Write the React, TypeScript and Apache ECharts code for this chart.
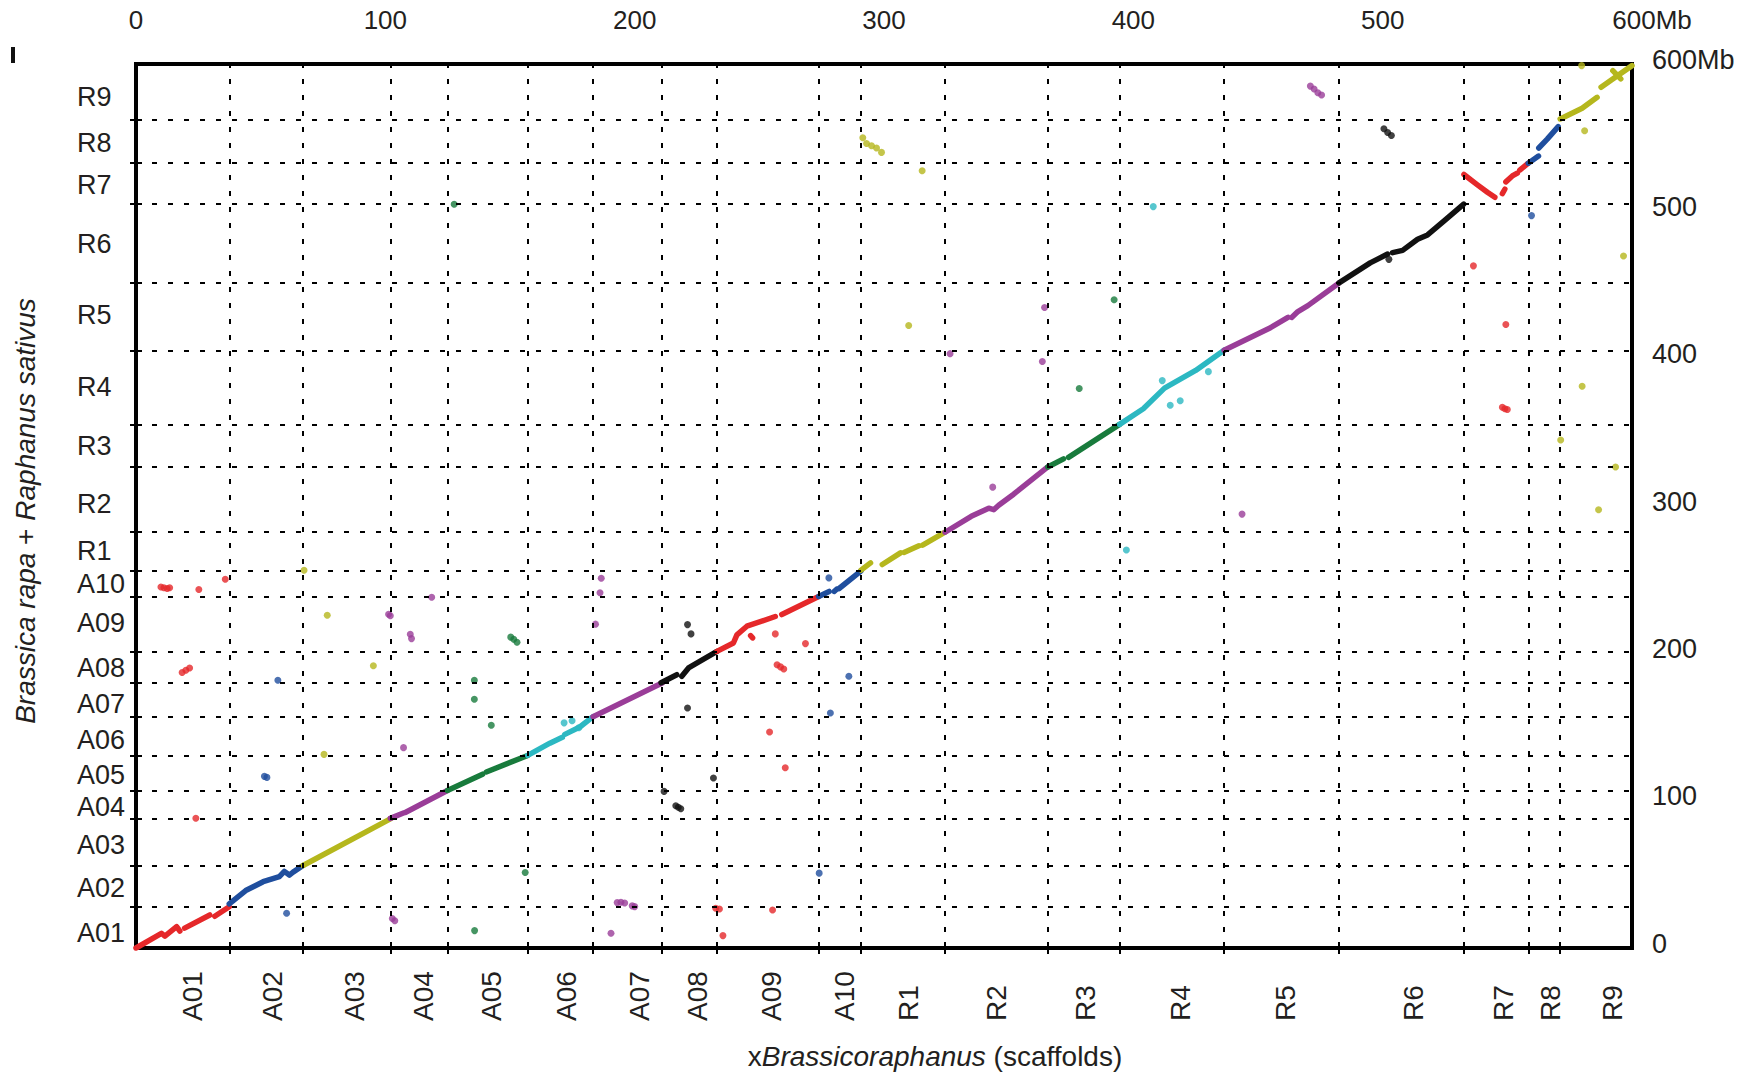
import React, { useEffect, useRef } from "react";
import * as echarts from "echarts";

const FONT = "Liberation Sans, Arial, Helvetica, sans-serif";
const TXT = "#231f20";

const CHROMS = ["A01","A02","A03","A04","A05","A06","A07","A08","A09","A10","R1","R2","R3","R4","R5","R6","R7","R8","R9"];
// chromosome boundaries (Mb) on the xBrassicoraphanus axis and on the B. rapa + R. sativus axis
const X_BOUNDS = [37.4, 66.9, 102.0, 124.9, 157.1, 183.3, 211.0, 233.0, 273.8, 290.8, 324.5, 365.7, 394.5, 436.4, 482.5, 532.5, 558.4, 571.0];
const Y_BOUNDS = [28.0, 55.9, 87.6, 106.9, 130.7, 157.0, 179.8, 201.3, 238.5, 256.2, 282.2, 326.5, 355.4, 405.7, 451.4, 504.9, 532.7, 562.2];
const X_LABEL_POS = [22.7, 54.7, 87.5, 115.5, 142.5, 172.6, 201.9, 225.3, 255.0, 284.2, 309.9, 345.0, 381.0, 418.8, 461.1, 512.4, 548.4, 567.4, 592.1];
const Y_LABEL_POS = [10.3, 40.8, 69.7, 95.6, 117.7, 141.3, 165.7, 190.1, 220.6, 247.2, 269.3, 301.3, 341.0, 380.6, 429.3, 478.1, 517.7, 546.7, 577.9];
const MB_TICKS = [0, 100, 200, 300, 400, 500, 600];

const PALETTE: Record<string, string> = {
  red: "#e5282a", blue: "#1f4e9e", olive: "#b5b71d", purple: "#9a3d98",
  green: "#187b3c", cyan: "#2cb8c2", black: "#111111",
};
const CHROM_COLOR = ["red","blue","olive","purple","green","cyan","purple","black","red","blue","olive","purple","green","cyan","purple","black","red","blue","olive"];

// main diagonal pieces per scaffold [x Mb, y Mb]
const DIAG_A01 = [[[0,0],[10.2,10],[11.6,8],[16.3,14.5],[17.6,11.5]],[[19.5,13.5],[29.6,22.4]],[[31.6,21.5],[37.4,28]]];
const DIAG_A02 = [[[37.4,30],[44,39],[51,45],[57.5,48.5],[59.5,52],[61.5,49.5],[63,51.5],[67,56]]];
const DIAG_A03 = [[[67,56],[102,87.6]]];
const DIAG_A04 = [[[102,88],[107,91.5]],[[108,92],[124.9,106.9]]];
const DIAG_A05 = [[[124.9,106.9],[139,118]],[[140.5,119.5],[157.1,130.7]]];
const DIAG_A06 = [[[157.1,130.7],[166,139],[171,143]],[[172,145],[178,150],[183.3,157]]];
const DIAG_A07 = [[[183.3,157],[211,179.8]]];
const DIAG_A08 = [[[210.6,180],[216.9,185.5]],[[218.9,184.4],[221.6,190.1],[233,201.3]]];
const DIAG_A09 = [[[233,201.3],[239.6,207],[241,212.5],[245,218.4],[256.4,225]],[[259,226.3],[273.8,238.6]],[[246.5,212],[247.3,210.5]]];
const DIAG_A10 = [[[273.8,238.6],[278,242]],[[280,242],[281,243.5]],[[282,244],[290.8,256]]];
const DIAG_R1 = [[[290.8,256.5],[294.6,261.4]],[[299.3,260.3],[306.6,268.2]],[[308,268.5],[314,273]],[[315.5,273.5],[324.5,282.2]]];
const DIAG_R2 = [[[324.5,282.2],[335,293],[342,298.5],[344,297.5],[346,300.5],[352,308],[365.7,326.5]]];
const DIAG_R3 = [[[365.7,326.5],[372,332]],[[374,333],[394.5,355.4]]];
const DIAG_R4 = [[[394.5,355.4],[404,366],[412.5,380],[425,392],[436.4,405.7]]];
const DIAG_R5 = [[[436.4,405.7],[455,421],[462,428]],[[463.5,428],[466,432],[470,436],[482.5,451.4]]];
const DIAG_R6 = [[[482.5,451.4],[495,465],[502,471]],[[504,472],[508,473.5],[514,481],[518,484],[525,494],[532.5,504.9]]];
const DIAG_R7 = [[[532.6,525],[538,518],[542,513],[545,509.5]],[[548,512],[549,515]],[[549.4,520],[552,524],[554,526]],[[555,528],[558.4,532.7]]];
const DIAG_R8 = [[[558.4,532.7],[562.5,537.5]],[[562.6,543],[566,549],[570.4,557.5]]];
const DIAG_R9 = [[[571.2,562.7],[580,570],[586,577.4]],[[587.6,584.2],[592,589.5],[600,598.9]],[[592.3,595.5],[595.5,589.9]]];

// off-diagonal hits per scaffold
const OFF_A01 = [[10,245],[11.2,244.5],[12.5,244],[13.5,244.5],[25.2,243.3],[35.8,250.3],[18.5,187],[20,188.5],[21.5,190],[24,88.1]];
const OFF_A02 = [[56.9,181.7],[51.5,116.5],[52.5,115.8],[60.4,23.6]];
const OFF_A03 = [[67.4,256.4],[76.7,225.9],[75.4,131.4],[95.2,191.6]];
const OFF_A04 = [[101.3,226.5],[102,225.5],[110,213],[110.5,210],[118.6,238.1],[107.3,136],[102.8,20],[103.8,18.5]];
const OFF_A05 = [[127.6,504.8],[150.3,211],[151.5,209.5],[152.8,207.5],[135.7,181.7],[135.7,168.8],[142.5,151.2],[156.1,51.2],[135.8,11.8]];
const OFF_A06 = [[171.7,152.8],[174.9,154.3],[177.6,149.5]];
const OFF_A07 = [[186.6,251],[186.1,241.1],[184.3,219.8],[193,30.8],[194.5,31],[196,30.5],[199,28.6],[200,28.1],[190.5,10]];
const OFF_A08 = [[221.2,219.5],[222.6,213.2],[221.2,162.9],[211.8,106.3],[216.5,96.5],[217.5,95.5],[218.5,94.5],[231.6,115.4]];
const OFF_A09 = [[256.4,213.2],[268.5,206.6],[257.1,192.3],[258.5,190.8],[259.8,189.4],[254.1,146.6],[260.4,122.3],[232.5,27],[234,26.5],[235.4,8.4],[255.3,25.8]];
const OFF_A10 = [[277.9,251.2],[285.9,184.4],[278.5,159.5],[274,50.8]];
const OFF_R1 = [[291.5,550],[293,546],[295,544.5],[297,543],[299,540],[315.3,527.6],[309.9,422.5]];
const OFF_R2 = [[326.5,403.4],[343.6,312.8],[364.4,434.7],[363.5,398.1]];
const OFF_R3 = [[392.3,440],[378.3,379.8]];
const OFF_R4 = [[408,503.2],[411.6,385.1],[414.8,368.4],[418.8,371.4],[430.1,391.2],[397.2,270.1]];
const OFF_R5 = [[443.6,294.5],[471,585],[472.5,583],[474,580.5],[475.5,579]];
const OFF_R6 = [[500.5,556],[502,553.5],[503.5,551.5],[502.5,467.4]];
const OFF_R7 = [[536.4,463],[549.4,423.2],[548,367],[549,366],[550,365.5]];
const OFF_R8 = [[559.7,497.1]];
const OFF_R9 = [[579.8,598.9],[581,554.7],[580,381.3],[571.4,344.8],[593.4,326.5],[586.6,297.5],[596.6,469.7]];

const DIAG = [DIAG_A01,DIAG_A02,DIAG_A03,DIAG_A04,DIAG_A05,DIAG_A06,DIAG_A07,DIAG_A08,DIAG_A09,DIAG_A10,DIAG_R1,DIAG_R2,DIAG_R3,DIAG_R4,DIAG_R5,DIAG_R6,DIAG_R7,DIAG_R8,DIAG_R9];
const OFF = [OFF_A01,OFF_A02,OFF_A03,OFF_A04,OFF_A05,OFF_A06,OFF_A07,OFF_A08,OFF_A09,OFF_A10,OFF_R1,OFF_R2,OFF_R3,OFF_R4,OFF_R5,OFF_R6,OFF_R7,OFF_R8,OFF_R9];

function labelFor(list: number[], value: number) {
  const i = list.findIndex((p) => Math.abs(p - value) < 1e-6);
  return i >= 0 ? CHROMS[i] : "";
}

export default function App() {
  const ref = useRef<HTMLDivElement>(null);
  useEffect(() => {
    if (!ref.current) return;
    const chart = echarts.init(ref.current, undefined, { renderer: "svg" });
    const series: any[] = [];
    series.push({
      type: "scatter",
      data: [],
      silent: true,
      z: 1,
      markLine: {
        silent: true,
        symbol: ["none", "none"],
        label: { show: false },
        lineStyle: { color: "#000", width: 2, type: [5, 11] },
        data: [
          ...X_BOUNDS.map((v) => ({ xAxis: v })),
          ...Y_BOUNDS.map((v) => ({ yAxis: v })),
        ],
      },
    });
    DIAG.forEach((pieces, i) => {
      const color = PALETTE[CHROM_COLOR[i]];
      pieces.forEach((poly) => {
        series.push({
          type: "line",
          data: poly,
          symbol: "none",
          silent: true,
          z: 3,
          lineStyle: { color, width: 5.5, cap: "round", join: "round" },
        });
      });
      series.push({
        type: "scatter",
        data: OFF[i],
        symbolSize: 7,
        silent: true,
        z: 3,
        itemStyle: { color },
      });
    });
    const tickStyle = { show: true, inside: true, length: 6, lineStyle: { color: "#000", width: 2 } };
    chart.setOption({
      animation: false,
      backgroundColor: "#fff",
      grid: {
        left: 136, right: 126, top: 64, bottom: 124,
        show: true, borderColor: "#000", borderWidth: 4, backgroundColor: "transparent",
        outerBoundsMode: "none",
      },
      xAxis: [
        {
          type: "value", position: "bottom", min: 0, max: 600,
          axisLine: { show: false },
          axisTick: { ...tickStyle, customValues: X_BOUNDS },
          splitLine: { show: false },
          axisLabel: {
            customValues: X_LABEL_POS,
            formatter: (v: number) => labelFor(X_LABEL_POS, v),
            rotate: 90, align: "left", verticalAlign: "middle", margin: 73,
            fontSize: 28, fontFamily: FONT, color: TXT,
          },
        },
        {
          type: "value", position: "top", min: 0, max: 600, interval: 100,
          axisLine: { show: false },
          axisTick: { ...tickStyle, customValues: X_BOUNDS },
          splitLine: { show: false },
          axisLabel: {
            margin: 31, fontSize: 26, fontFamily: FONT, color: TXT,
            formatter: (v: number) => (v === 600 ? "{m|600Mb}" : String(v)),
            rich: { m: { fontSize: 26, fontFamily: FONT, color: TXT, padding: [0, 0, 0, 40] } },
          },
        },
      ],
      yAxis: [
        {
          type: "value", position: "left", min: 0, max: 600,
          axisLine: { show: false },
          axisTick: { ...tickStyle, customValues: Y_BOUNDS },
          splitLine: { show: false },
          axisLabel: {
            customValues: Y_LABEL_POS,
            formatter: (v: number) => labelFor(Y_LABEL_POS, v),
            align: "left", margin: 59, fontSize: 27, fontFamily: FONT, color: TXT,
          },
        },
        {
          type: "value", position: "right", min: 0, max: 600, interval: 100,
          axisLine: { show: false },
          axisTick: { ...tickStyle, customValues: Y_BOUNDS },
          splitLine: { show: false },
          axisLabel: {
            margin: 20, fontSize: 27, fontFamily: FONT, color: TXT,
            verticalAlign: "bottom", lineHeight: 9,
            formatter: (v: number) => (MB_TICKS.indexOf(v) === 6 ? "600Mb" : String(v)),
          },
        },
      ],
      graphic: [
        {
          type: "text", x: 25, y: 511, rotation: Math.PI / 2,
          style: {
            text: "{i|Brassica rapa} + {i|Raphanus sativus}",
            fontSize: 28, fontFamily: FONT, fill: TXT, align: "center", verticalAlign: "middle",
            rich: { i: { fontStyle: "italic", fontSize: 28, fontFamily: FONT, fill: TXT } },
          },
        },
        {
          type: "text", x: 935, y: 1056,
          style: {
            text: "x{i|Brassicoraphanus} (scaffolds)",
            fontSize: 28, fontFamily: FONT, fill: TXT, align: "center", verticalAlign: "middle",
            rich: { i: { fontStyle: "italic", fontSize: 28, fontFamily: FONT, fill: TXT } },
          },
        },
        { type: "rect", shape: { x: 11, y: 47, width: 4, height: 16 }, style: { fill: "#111" } },
      ],
      series,
    });
    return () => chart.dispose();
  }, []);
  return (
    <div
      ref={ref}
      style={{ position: "fixed", left: 0, top: 0, width: 1758, height: 1072, background: "#fff" }}
    />
  );
}
